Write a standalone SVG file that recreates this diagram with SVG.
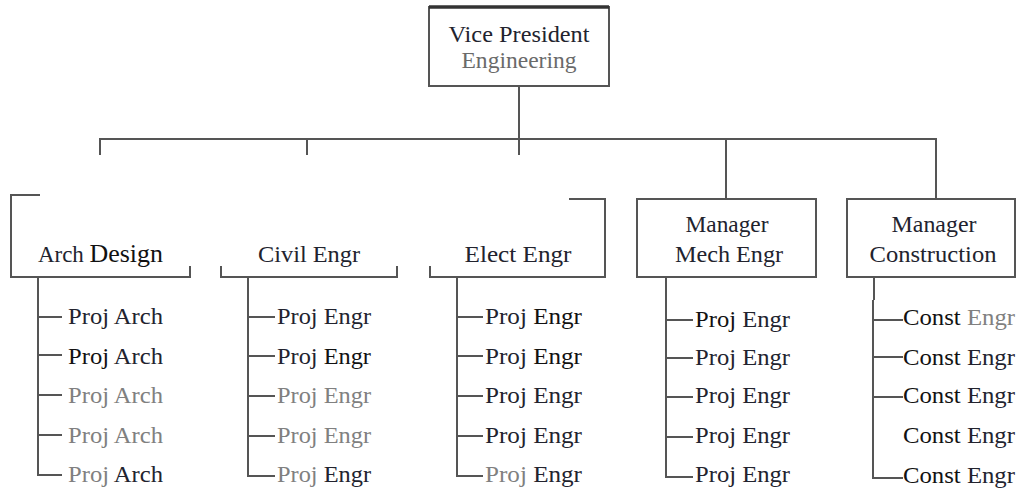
<svg xmlns="http://www.w3.org/2000/svg" width="1017" height="492" viewBox="0 0 1017 492">
<style>
.ln{fill:none;stroke:#555;stroke-width:2}
.t{font-family:"Liberation Serif","Times New Roman",serif;font-size:23px;fill:#22232e}
.c{text-anchor:middle}
.g{fill:#808080}
</style>
<rect width="1017" height="492" fill="#fff"/>
<g id="connectors">
<polyline class="ln" points="100,155 100,139 937,139"/>
<line class="ln" x1="307" y1="139" x2="307" y2="155"/>
<line class="ln" x1="519" y1="86" x2="519" y2="155"/>
<line class="ln" x1="726" y1="139" x2="726" y2="199"/>
<line class="ln" x1="936" y1="139" x2="936" y2="199"/>
<path class="ln" d="M38,277V475H62M38,317H62M38,355H62M38,395H62M38,435H62"/>
<path class="ln" d="M248,277V476H275M248,317H275M248,356H275M248,396H275M248,436H275"/>
<path class="ln" d="M457,277V476H483M457,317H483M457,356H483M457,396H483M457,436H483"/>
<path class="ln" d="M666,277V477H693M666,320H693M666,358H693M666,397H693M666,437H693"/>
<path class="ln" d="M874,277V300M873,300V478H903M873,320H903M873,357H903M873,397H903"/>
</g>
<g id="vp">
<rect class="ln" x="429" y="7" width="180" height="79"/>
<line x1="429" y1="7" x2="609" y2="7" stroke="#333" stroke-width="3.5"/>
<text class="t c" x="519" y="42" textLength="141" lengthAdjust="spacingAndGlyphs">Vice President</text>
<text class="t c" x="519" y="68" textLength="115" lengthAdjust="spacingAndGlyphs" style="fill:#6a6a6a">Engineering</text>
</g>
<g id="arch">
<path class="ln" d="M40,195H11V277H190V266"/>
<text class="t" x="38" y="262" textLength="125" lengthAdjust="spacingAndGlyphs">Arch <tspan style="font-size:26px;fill:#111">Design</tspan></text>
</g>
<g id="civil">
<path class="ln" d="M221,266V277H397V266"/>
<text class="t c" x="309" y="262" textLength="102" lengthAdjust="spacingAndGlyphs">Civil Engr</text>
</g>
<g id="elect">
<path class="ln" d="M430,266V277H605V199H569"/>
<text class="t c" x="518" y="262" textLength="107" lengthAdjust="spacingAndGlyphs">Elect Engr</text>
</g>
<g id="mech">
<rect class="ln" x="637" y="199" width="179" height="78"/>
<text class="t c" x="727" y="232" textLength="83" lengthAdjust="spacingAndGlyphs">Manager</text>
<text class="t c" x="729" y="262" textLength="108" lengthAdjust="spacingAndGlyphs">Mech Engr</text>
</g>
<g id="construction">
<rect class="ln" x="847" y="199" width="168" height="78"/>
<text class="t c" x="934" y="232" textLength="85" lengthAdjust="spacingAndGlyphs">Manager</text>
<text class="t c" x="933" y="262" textLength="127" lengthAdjust="spacingAndGlyphs">Construction</text>
</g>
<g id="arch-staff">
<text class="t" x="68" y="324" textLength="95" lengthAdjust="spacingAndGlyphs">Proj Arch</text>
<text class="t" x="68" y="364" textLength="95" lengthAdjust="spacingAndGlyphs"><tspan style="fill:#111">Proj</tspan> Arch</text>
<text class="t g" x="68" y="403" textLength="95" lengthAdjust="spacingAndGlyphs">Proj Arch</text>
<text class="t g" x="68" y="443" textLength="95" lengthAdjust="spacingAndGlyphs">Proj Arch</text>
<text class="t" x="68" y="482" textLength="95" lengthAdjust="spacingAndGlyphs"><tspan class="g">Proj</tspan> Arch</text>
</g>
<g id="civil-staff">
<text class="t" x="277" y="324" textLength="94" lengthAdjust="spacingAndGlyphs">Proj Engr</text>
<text class="t" x="277" y="364" textLength="94" lengthAdjust="spacingAndGlyphs">Proj <tspan style="fill:#111">Engr</tspan></text>
<text class="t g" x="277" y="403" textLength="94" lengthAdjust="spacingAndGlyphs">Proj Engr</text>
<text class="t g" x="277" y="443" textLength="94" lengthAdjust="spacingAndGlyphs">Proj Engr</text>
<text class="t" x="277" y="482" textLength="94" lengthAdjust="spacingAndGlyphs"><tspan class="g">Proj</tspan> Engr</text>
</g>
<g id="elect-staff">
<text class="t" x="485" y="324" textLength="97" lengthAdjust="spacingAndGlyphs">Proj <tspan style="fill:#111">Engr</tspan></text>
<text class="t" x="485" y="364" textLength="97" lengthAdjust="spacingAndGlyphs">Proj <tspan style="fill:#111">Engr</tspan></text>
<text class="t" x="485" y="403" textLength="97" lengthAdjust="spacingAndGlyphs">Proj Engr</text>
<text class="t" x="485" y="443" textLength="97" lengthAdjust="spacingAndGlyphs">Proj Engr</text>
<text class="t" x="485" y="482" textLength="97" lengthAdjust="spacingAndGlyphs"><tspan class="g">Proj</tspan> Engr</text>
</g>
<g id="mech-staff">
<text class="t" x="695" y="327" textLength="95" lengthAdjust="spacingAndGlyphs"><tspan style="fill:#111">Proj</tspan> Engr</text>
<text class="t" x="695" y="365" textLength="95" lengthAdjust="spacingAndGlyphs">Proj Engr</text>
<text class="t" x="695" y="403" textLength="95" lengthAdjust="spacingAndGlyphs">Proj Engr</text>
<text class="t" x="695" y="443" textLength="95" lengthAdjust="spacingAndGlyphs">Proj Engr</text>
<text class="t" x="695" y="482" textLength="95" lengthAdjust="spacingAndGlyphs">Proj Engr</text>
</g>
<g id="const-staff">
<text class="t" x="903" y="325" textLength="112" lengthAdjust="spacingAndGlyphs"><tspan style="fill:#111">Const</tspan> <tspan class="g">Engr</tspan></text>
<text class="t" x="903" y="365" textLength="112" lengthAdjust="spacingAndGlyphs"><tspan style="fill:#111">Const</tspan> Engr</text>
<text class="t" x="903" y="403" textLength="112" lengthAdjust="spacingAndGlyphs"><tspan style="fill:#111">Const</tspan> Engr</text>
<text class="t" x="903" y="443" textLength="112" lengthAdjust="spacingAndGlyphs"><tspan style="fill:#111">Const</tspan> Engr</text>
<text class="t" x="903" y="483" textLength="112" lengthAdjust="spacingAndGlyphs"><tspan style="fill:#111">Const</tspan> Engr</text>
</g>
</svg>
